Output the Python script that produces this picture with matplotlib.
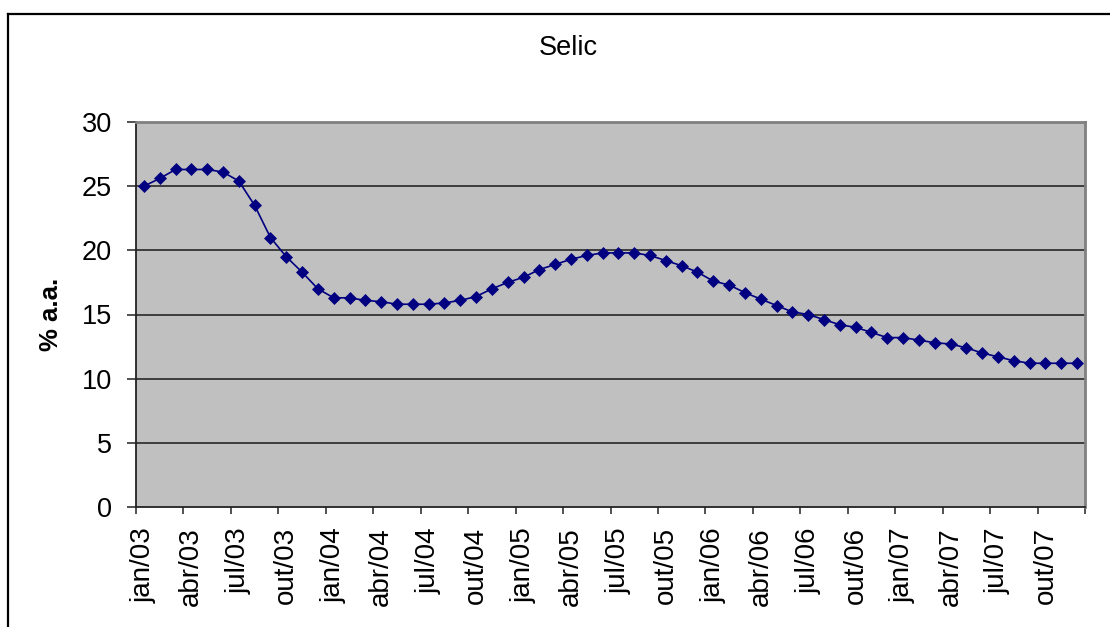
import numpy as np
import matplotlib
matplotlib.use("Agg")
import matplotlib.pyplot as plt
from matplotlib.lines import Line2D

plt.rcParams["font.family"] = ["Liberation Sans", "DejaVu Sans"]

# ── Data: Selic (% a.a.), monthly jan/03 .. dez/07 ────────────────────────────
months = ["jan", "fev", "mar", "abr", "mai", "jun",
          "jul", "ago", "set", "out", "nov", "dez"]
years = ["03", "04", "05", "06", "07"]
categories = [f"{m}/{y}" for y in years for m in months]

selic = [
    # 2003
    25.0, 25.6, 26.3, 26.3, 26.3, 26.1, 25.4, 23.5, 21.0, 19.5, 18.3, 17.0,
    # 2004
    16.3, 16.3, 16.1, 16.0, 15.8, 15.8, 15.8, 15.9, 16.1, 16.4, 17.0, 17.5,
    # 2005
    17.9, 18.5, 18.9, 19.3, 19.6, 19.8, 19.8, 19.8, 19.6, 19.2, 18.8, 18.3,
    # 2006
    17.6, 17.3, 16.7, 16.2, 15.7, 15.2, 15.0, 14.6, 14.2, 14.0, 13.6, 13.2,
    # 2007
    13.2, 13.0, 12.8, 12.7, 12.4, 12.0, 11.7, 11.4, 11.2, 11.2, 11.2, 11.2,
]

y_ticks = [0, 5, 10, 15, 20, 25, 30]

# ── Figure ────────────────────────────────────────────────────────────────────
W, H = 1110, 627
fig = plt.figure(figsize=(W / 100, H / 100), dpi=100)
ax = fig.add_axes([136 / W, 1 - 507 / H, (1085 - 136) / W, (507 - 122) / H])
ax.set_facecolor("#C0C0C0")

x = np.arange(len(selic))
ax.plot(x, selic, color="#000080", lw=1.2, marker="D", ms=6.4,
        mfc="#000080", mec="#000080", mew=0.5, zorder=5, clip_on=False)

# y axis
ax.set_ylim(0, 30)
ax.set_yticks(y_ticks)
ax.set_yticklabels([str(v) for v in y_ticks], fontsize=19.5)
ax.tick_params(axis="y", direction="out", length=6.5, width=1.2, pad=10.8,
               color="#333333")
for v in y_ticks[1:-1]:
    ax.axhline(v, color="#333333", lw=1.3, zorder=2)

# x axis: tick marks at category boundaries, labels at centres every 3 months
ax.set_xlim(-0.5, len(selic) - 0.5)
ax.set_xticks(np.arange(-0.5, len(selic), 3))
ax.set_xticklabels([])
ax.set_xticks(x[::3], minor=True)
ax.set_xticklabels(categories[::3], minor=True, rotation=90, fontsize=20,
                   ha="center", va="top")
ax.tick_params(axis="x", which="major", direction="out", length=5, width=1.2,
               color="#333333")
ax.tick_params(axis="x", which="minor", length=0, pad=14.4)

for side in ["top", "right"]:
    ax.spines[side].set_color("#808080")
    ax.spines[side].set_linewidth(2)
for side in ["left", "bottom"]:
    ax.spines[side].set_color("#222222")
    ax.spines[side].set_linewidth(1.3)

ax.set_ylabel("% a.a.", fontsize=18.5, fontweight="bold", labelpad=0)
ax.yaxis.set_label_coords((63 - 136) / (1085 - 136), 0.5)

fig.text(568 / W, 1 - 48 / H, "Selic", fontsize=19.5, ha="center", va="center")

# outer chart frame (cropped at right and bottom)
fig.add_artist(Line2D([8 / W, 8 / W], [0, 1 - 14 / H], color="black", lw=1.6,
                      transform=fig.transFigure))
fig.add_artist(Line2D([8 / W, 1], [1 - 14 / H, 1 - 14 / H], color="black",
                      lw=1.6, transform=fig.transFigure))

fig.savefig("out.png", dpi=100)
